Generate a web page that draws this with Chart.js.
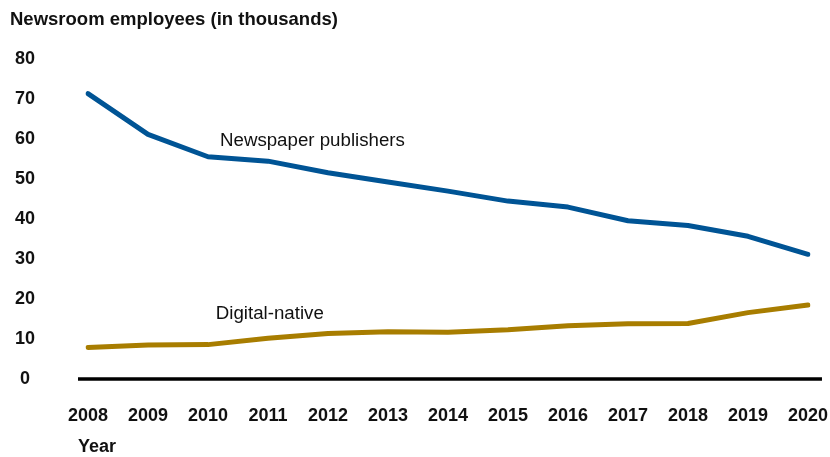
<!DOCTYPE html>
<html>
<head>
<meta charset="utf-8">
<script src="https://cdn.jsdelivr.net/npm/chart.js@4/dist/chart.umd.min.js"></script>
<style>
  html, body { margin: 0; padding: 0; background: #fff; }
  #wrap { width: 830px; height: 457px; }
</style>
</head>
<body>
<div id="wrap"><canvas id="chart"></canvas></div>
<script>
const years = ["2008", "2009", "2010", "2011", "2012", "2013", "2014", "2015", "2016", "2017", "2018", "2019", "2020"];
const newspaperPublishers = [71.4, 61.2, 55.6, 54.5, 51.6, 49.3, 47.0, 44.5, 43.0, 39.6, 38.4, 35.7, 31.2];
const digitalNative = [7.9, 8.5, 8.6, 10.2, 11.4, 11.8, 11.7, 12.3, 13.3, 13.8, 13.9, 16.6, 18.5];
const yTicks = [0, 10, 20, 30, 40, 50, 60, 70, 80];

const FONT = "'Liberation Sans', Arial, sans-serif";
const BLUE = "#005495";
const GOLD = "#A87D00";

// Baseline at zero, labels next to the lines, and the x-axis caption
const extras = {
  id: "extras",
  beforeDatasetsDraw(chart) {
    const { ctx, chartArea, scales } = chart;
    const y0 = scales.y.getPixelForValue(0);
    ctx.save();
    ctx.strokeStyle = "#000";
    ctx.lineWidth = 3.5;
    ctx.beginPath();
    ctx.moveTo(chartArea.left - 10, y0);
    ctx.lineTo(chartArea.right + 14, y0);
    ctx.stroke();
    ctx.restore();
  },
  afterDatasetsDraw(chart) {
    const { ctx, scales } = chart;
    ctx.save();
    ctx.fillStyle = "#111";
    ctx.textAlign = "left";
    ctx.textBaseline = "middle";
    ctx.font = "18.7px " + FONT;
    ctx.fillText("Newspaper publishers", scales.x.getPixelForValue(2.2), scales.y.getPixelForValue(59.5));
    ctx.fillText("Digital-native", scales.x.getPixelForValue(2.13), scales.y.getPixelForValue(16.3));
    ctx.font = "bold 18px " + FONT;
    ctx.fillText("Year", scales.x.getPixelForValue(0) - 10, chart.height - 10);
    ctx.restore();
  }
};

new Chart(document.getElementById("chart"), {
  type: "line",
  data: {
    labels: years,
    datasets: [
      {
        label: "Newspaper publishers",
        data: newspaperPublishers,
        borderColor: BLUE,
        borderWidth: 5,
        borderCapStyle: "round",
        borderJoinStyle: "round",
        pointRadius: 0,
        tension: 0,
      },
      {
        label: "Digital-native",
        data: digitalNative,
        borderColor: GOLD,
        borderWidth: 5,
        borderCapStyle: "round",
        borderJoinStyle: "round",
        pointRadius: 0,
        tension: 0,
      },
    ],
  },
  options: {
    responsive: true,
    maintainAspectRatio: false,
    animation: false,
    layout: { padding: { left: 10, right: 22, top: 0, bottom: 0 } },
    scales: {
      x: {
        offset: false,
        grid: { display: false, drawTicks: true, tickLength: 24 },
        border: { display: false },
        ticks: {
          color: "#111",
          font: { family: FONT, size: 18, weight: "bold" },
          padding: 2,
          maxRotation: 0,
          autoSkip: false,
        },
        afterFit(scale) { scale.height = 78; },
      },
      y: {
        min: 0,
        max: 80,
        grid: { display: false, drawTicks: true, tickLength: 51 },
        border: { display: false },
        afterBuildTicks(scale) { scale.ticks = yTicks.map((v) => ({ value: v })); },
        ticks: {
          color: "#111",
          font: { family: FONT, size: 18, weight: "bold" },
          crossAlign: "center",
          padding: 2,
        },
        afterFit(scale) { scale.width = 78; },
      },
    },
    plugins: {
      legend: { display: false },
      tooltip: { enabled: false },
      title: {
        display: true,
        text: "Newsroom employees (in thousands)",
        align: "start",
        color: "#111",
        font: { family: FONT, size: 18.5, weight: "bold" },
        padding: { top: 9, bottom: 28 },
      },
    },
  },
  plugins: [extras],
});
</script>
</body>
</html>
